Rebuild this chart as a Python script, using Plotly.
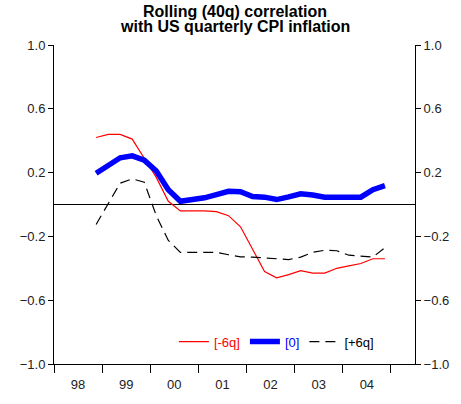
import plotly.graph_objects as go

quarters = ["1998Q4",
            "1999Q1", "1999Q2", "1999Q3", "1999Q4",
            "2000Q1", "2000Q2", "2000Q3", "2000Q4",
            "2001Q1", "2001Q2", "2001Q3", "2001Q4",
            "2002Q1", "2002Q2", "2002Q3", "2002Q4",
            "2003Q1", "2003Q2", "2003Q3", "2003Q4",
            "2004Q1", "2004Q2", "2004Q3", "2004Q4"]

lag_minus6 = [0.42, 0.44, 0.44, 0.41, 0.29, 0.17, 0.02, -0.04, -0.04, -0.04, -0.045, -0.07,
              -0.14, -0.28, -0.42, -0.46, -0.44, -0.415, -0.43, -0.43, -0.40, -0.385, -0.37, -0.34, -0.34]
lag_zero = [0.196, 0.247, 0.293, 0.305, 0.278, 0.21, 0.093, 0.02, 0.03, 0.042, 0.062, 0.083,
            0.08, 0.05, 0.046, 0.031, 0.048, 0.067, 0.06, 0.046, 0.046, 0.046, 0.046, 0.093, 0.118]
lag_plus6 = [-0.125, 0.0, 0.134, 0.161, 0.14, -0.07, -0.225, -0.30, -0.30, -0.30, -0.30, -0.315,
             -0.328, -0.33, -0.335, -0.34, -0.345, -0.33, -0.30, -0.287, -0.29, -0.318, -0.325, -0.33, -0.27]

year_labels = ["98", "99", "00", "01", "02", "03", "04"]
first_year = 1998
y_ticks = [-1.0, -0.6, -0.2, 0.2, 0.6, 1.0]
title_lines = ["Rolling (40q) correlation", "with US quarterly CPI inflation"]

x_pos = [int(q[:4]) + (int(q[-1]) - 0.5) / 4 for q in quarters]
year_mid = [first_year + i + 0.5 for i in range(len(year_labels))]
year_bounds = [first_year + i for i in range(len(year_labels) + 1)]
x_range = [first_year, first_year + len(year_labels) + 0.5]

FONT = "Liberation Sans, Arial, sans-serif"

fig = go.Figure()
fig.add_trace(go.Scatter(x=x_pos, y=lag_minus6, mode="lines",
                         line=dict(color="#ff0000", width=1.2),
                         name="<span style='color:#ff0000'>[-6q]</span>"))
fig.add_trace(go.Scatter(x=x_pos, y=lag_zero, mode="lines",
                         line=dict(color="#0000ff", width=5.5),
                         name="<span style='color:#0000ff'>[0]</span>"))
fig.add_trace(go.Scatter(x=x_pos, y=lag_plus6, mode="lines", xaxis="x2", yaxis="y2",
                         line=dict(color="#000000", width=1.2, dash="10px,6px"),
                         name="<span style='color:#000000'>[+6q]</span>"))

for line_text, ypos in zip(title_lines, [1.105, 1.057]):
    fig.add_annotation(text="<b>" + line_text + "</b>",
                       xref="paper", yref="paper", x=0.5, y=ypos,
                       xanchor="center", yanchor="middle",
                       showarrow=False, align="center",
                       font=dict(family=FONT, size=16, color="#000000"))

fig.update_layout(
    width=461, height=404,
    margin=dict(l=54, r=42, t=45, b=35),
    paper_bgcolor="white", plot_bgcolor="white",
    font=dict(family=FONT, size=13, color="#222222"),
    showlegend=True,
    legend=dict(orientation="h", x=0.9, xanchor="right", y=0.07, yanchor="middle",
                bgcolor="rgba(0,0,0,0)", font=dict(family=FONT, size=13),
                itemwidth=30, tracegroupgap=0),
    xaxis=dict(range=x_range, tickvals=year_mid, ticktext=year_labels,
               ticks="outside", ticklen=8, tickcolor="rgba(0,0,0,0)",
               showgrid=False, zeroline=False, showline=True, linecolor="#000000",
               linewidth=1, fixedrange=True),
    xaxis2=dict(range=x_range, overlaying="x", side="bottom", anchor="y",
                tickvals=year_bounds, showticklabels=False,
                ticks="outside", ticklen=8, tickcolor="#000000", tickwidth=1,
                showgrid=False, zeroline=False, showline=False),
    yaxis=dict(range=[-1, 1], tickvals=y_ticks, tickformat=".1f",
               ticks="outside", ticklen=5, tickcolor="#000000",
               showgrid=False, showline=True, linecolor="#000000", linewidth=1,
               zeroline=True, zerolinecolor="#000000", zerolinewidth=1),
    yaxis2=dict(range=[-1, 1], overlaying="y", side="right", anchor="x",
                tickvals=y_ticks, tickformat=".1f",
                ticks="outside", ticklen=5, tickcolor="#000000",
                showgrid=False, showline=True, linecolor="#000000", linewidth=1,
                zeroline=False),
)

fig.write_html("out.html", config={"displayModeBar": False},
               post_script="document.body.style.margin='0';")
